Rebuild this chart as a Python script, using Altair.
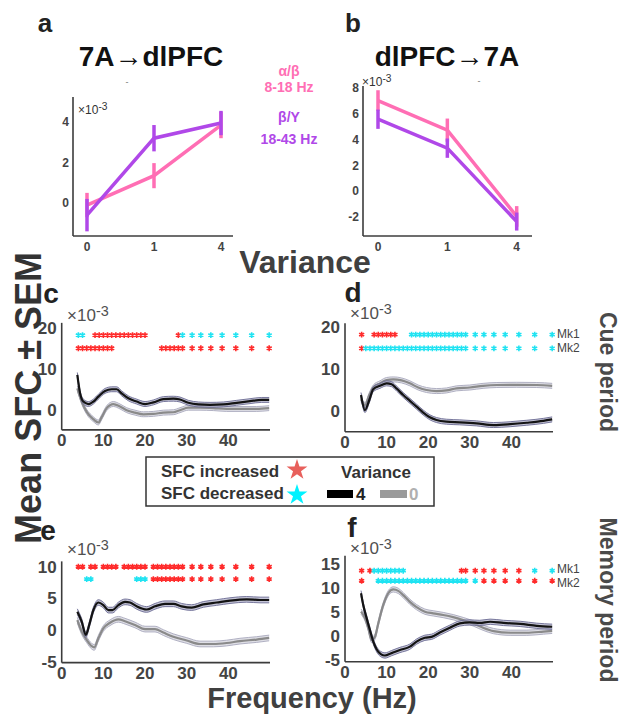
import altair as alt
import pandas as pd

# ---------------- data ----------------
VAR_LEVELS = ["0", "1", "4"]
VAR_POS = [0, 1, 2]

A_ALPHA_MEAN = [-0.1, 1.35, 3.85]
A_ALPHA_SEM = [0.6, 0.62, 0.65]
A_BETA_MEAN = [-0.6, 3.2, 3.95]
A_BETA_SEM = [0.8, 0.65, 0.6]

B_ALPHA_MEAN = [7.05, 4.75, -1.95]
B_ALPHA_SEM = [0.8, 0.9, 0.8]
B_BETA_MEAN = [5.6, 3.35, -2.35]
B_BETA_SEM = [0.75, 0.75, 0.7]

C_BLACK_F = [3.75, 4.4, 5.2, 6.4, 7.6, 8.8, 10.4, 12.0, 13.2, 14.4, 16.0, 18.0, 20.0, 22.0, 24.4, 26.8, 28.4, 30.4, 32.8, 35.6, 38.8, 42.0, 45.2, 48.0, 49.8]
C_BLACK_Y = [8.8, 4.4, 2.3, 1.7, 2.3, 3.5, 4.9, 5.3, 5.3, 4.3, 3.1, 2.3, 1.7, 2.1, 2.9, 3.0, 2.8, 2.0, 1.6, 1.5, 1.6, 2.0, 2.4, 2.7, 2.7]
C_GRAY_F = [3.75, 4.8, 6.0, 7.6, 8.8, 9.6, 10.8, 12.4, 14.0, 15.6, 17.6, 19.6, 22.0, 24.4, 26.8, 28.4, 30.4, 33.2, 36.4, 39.6, 42.8, 46.8, 49.8]
C_GRAY_Y = [5.5, 2.3, -0.2, -2.0, -2.8, -1.5, 0.7, 1.7, 1.1, 0.2, -0.4, -0.8, -0.7, -0.4, -0.3, 0.2, 0.8, 0.8, 0.7, 0.5, 0.5, 0.5, 0.7]

D_BLACK_F = [3.85, 4.8, 5.85, 6.8, 8.4, 10.0, 11.2, 12.4, 14.0, 15.6, 17.2, 18.8, 20.4, 22.0, 24.4, 27.6, 31.6, 35.7, 39.7, 43.7, 47.7, 49.8]
D_BLACK_Y = [4.0, 0.4, 2.8, 5.4, 6.2, 6.8, 6.6, 5.55, 4.0, 2.6, 1.2, -0.2, -1.35, -2.0, -2.4, -2.55, -2.8, -3.2, -3.0, -2.65, -2.2, -1.85]
D_GRAY_F = [3.85, 4.8, 5.85, 6.8, 8.4, 10.0, 11.6, 13.6, 15.6, 17.6, 19.6, 22.0, 24.4, 26.8, 30.0, 33.2, 36.5, 41.3, 46.1, 49.8]
D_GRAY_Y = [3.0, 1.6, 4.0, 5.8, 6.8, 7.6, 7.75, 7.5, 6.8, 5.8, 5.2, 4.95, 5.1, 5.6, 5.8, 6.2, 6.4, 6.45, 6.4, 6.2]

E_BLACK_F = [3.75, 4.8, 5.8, 6.6, 7.6, 8.8, 10.0, 11.2, 12.2, 13.6, 15.2, 16.4, 18.0, 20.4, 22.4, 24.8, 26.8, 28.8, 31.2, 34.0, 37.2, 40.4, 44.4, 47.6, 49.8]
E_BLACK_Y = [3.05, 1.5, -0.6, 0.95, 3.3, 4.5, 4.1, 3.3, 3.3, 4.1, 4.6, 4.5, 3.9, 3.4, 3.9, 4.3, 4.3, 3.9, 3.7, 4.2, 4.5, 4.8, 5.0, 4.9, 4.9]
E_GRAY_F = [3.75, 4.8, 6.0, 7.2, 7.8, 8.8, 10.0, 11.6, 13.6, 15.2, 17.6, 20.0, 22.4, 24.4, 26.8, 30.0, 33.2, 36.4, 39.6, 42.8, 46.8, 49.8]
E_GRAY_Y = [1.7, -0.1, -1.4, -2.4, -2.6, -1.15, 0.4, 1.3, 1.85, 1.55, 0.95, 0.3, 0.3, -0.25, -0.9, -1.5, -2.05, -2.05, -1.9, -1.6, -1.35, -1.1]

F_BLACK_F = [3.85, 4.4, 5.2, 6.0, 6.8, 7.6, 8.6, 9.6, 11.2, 13.2, 15.6, 17.2, 19.2, 20.8, 22.8, 25.2, 27.6, 30.0, 32.4, 34.9, 38.1, 42.1, 46.1, 49.8]
F_BLACK_Y = [9.2, 6.7, 4.0, 1.5, -0.9, -2.5, -3.5, -3.8, -3.3, -2.65, -1.95, -0.9, -0.1, 0.1, 1.0, 2.0, 2.9, 3.1, 3.0, 3.25, 3.0, 2.8, 2.4, 2.2]
F_GRAY_F = [3.85, 4.8, 5.6, 6.4, 7.2, 8.0, 9.2, 10.4, 11.6, 12.8, 14.0, 15.6, 17.2, 19.2, 21.2, 23.6, 26.0, 28.4, 30.8, 33.2, 35.7, 39.7, 43.7, 47.7, 49.8]
F_GRAY_Y = [5.35, 4.0, 1.9, -0.55, 0.1, 2.9, 6.75, 9.2, 10.0, 9.7, 8.8, 7.4, 6.3, 5.35, 5.0, 4.65, 4.2, 3.6, 2.9, 2.0, 1.3, 0.95, 0.95, 1.2, 1.35]

SEM_BLACK = {"c": 0.6, "d": 0.6, "e": 0.45, "f": 0.55}
SEM_GRAY = {"c": 0.6, "d": 0.6, "e": 0.45, "f": 0.55}

# significance stars: one character per frequency bin (r = increased, c = decreased, . = none)
FREQ_BINS = [4, 5, 6, 7, 8, 9, 10, 11, 12, 13, 14, 15, 16, 17, 18, 19, 20, 21, 22, 23, 24,
             25, 26, 27, 28, 29, 31.3, 33.4, 35.8, 38.5, 41.8, 45.6, 49.8]
C_MK1 = "cc.." "rrrrrrrrrrrrr" "......." "rc" "ccccccc"
C_MK2 = "rrrrrrrrr" "..........." "rrrrrr" "rrrrrrr"
D_MK1 = "r..rrrrrr..." "cccccccccccccc" "ccccccc"
D_MK2 = "r" "cccccccccc" "cccccccccc" "cccccccccc" "cc"
E_MK1 = "rr.rr.rrrr.rrrrrr." "rrrrrrrr" "rrrrrrr"
E_MK2 = "..cc..........ccc." "rrrrrrrr" "rrrrrrr"
F_MK1 = "r.r" "cccccccc" "............." "rr" "rrrrrcc"
F_MK2 = "r..." "cccccccccc" "cccccccccc" "ccc" "rrrrrr"
STAR_ROWS_Y = {"c": [18.5, 15.3], "d": [18.5, 15.2], "e": [10.15, 8.2], "f": [13.9, 11.8]}

FREQ_TICKS = [0, 10, 20, 30, 40]

# ---------------- style ----------------
W, H, M = 612, 707, 8
FONT = "Liberation Sans"
PINK = "#FF6EB4"
PURPLE = "#B048E8"
RED = "#FF2B2B"
CYAN = "#1FE3F2"
AST = "M0,-1L0,1M-0.87,-0.5L0.87,0.5M-0.87,0.5L0.87,-0.5"
STAR5 = ("M0,-1L0.2245,-0.309L0.951,-0.309L0.363,0.118L0.588,0.809L0,0.382"
         "L-0.588,0.809L-0.363,0.118L-0.951,-0.309L-0.2245,-0.309Z")
AX_COL = "#3c3c3c"
LAB_COL = "#444444"


def P(v):
    return v - M


def scale(dom, r0, r1):
    return alt.Scale(domain=dom, range=[P(r0), P(r1)], zero=False, nice=False)


def manual_axes(xs, ys, xdom, ydom, xticks, xlabels, yticks, ylabels, size, xpad, ypad):
    frame = pd.DataFrame({"x0": [xdom[0]], "x1": [xdom[1]], "y0": [ydom[0]], "y1": [ydom[1]]})
    xline = alt.Chart(frame).mark_rule(color=AX_COL, strokeWidth=1.6).encode(
        x=alt.X("x0:Q", scale=xs, axis=None), x2="x1:Q",
        y=alt.Y("y0:Q", scale=ys, axis=None))
    yline = alt.Chart(frame).mark_rule(color=AX_COL, strokeWidth=1.6).encode(
        x=alt.X("x0:Q", scale=xs, axis=None),
        y=alt.Y("y0:Q", scale=ys, axis=None), y2="y1:Q")
    xt = pd.DataFrame({"v": xticks, "lab": xlabels, "y0": [ydom[0]] * len(xticks)})
    xlab = alt.Chart(xt).mark_text(
        baseline="top", dy=xpad, fontSize=size, fontWeight="bold", color=LAB_COL, font=FONT
    ).encode(x=alt.X("v:Q", scale=xs, axis=None), y=alt.Y("y0:Q", scale=ys, axis=None), text="lab:N")
    yt = pd.DataFrame({"v": yticks, "lab": ylabels, "x0": [xdom[0]] * len(yticks)})
    ylab = alt.Chart(yt).mark_text(
        align="right", baseline="middle", dx=-ypad, fontSize=size, fontWeight="bold",
        color=LAB_COL, font=FONT
    ).encode(x=alt.X("x0:Q", scale=xs, axis=None), y=alt.Y("v:Q", scale=ys, axis=None), text="lab:N")
    return [xline, yline, xlab, ylab]


# ---------------- panels a / b ----------------
def var_series(means, sems, col, xs, ys):
    df = pd.DataFrame({"x": VAR_POS, "m": means, "s": sems})
    base = alt.Chart(df).transform_calculate(lo="datum.m - datum.s", hi="datum.m + datum.s")
    line = base.mark_line(color=col, strokeWidth=3.5).encode(
        x=alt.X("x:Q", scale=xs, axis=None), y=alt.Y("m:Q", scale=ys, axis=None))
    err = base.mark_rule(color=col, strokeWidth=3.5).encode(
        x=alt.X("x:Q", scale=xs, axis=None), y=alt.Y("lo:Q", scale=ys, axis=None), y2="hi:Q")
    return [line, err]


def var_panel(alpha_m, alpha_s, beta_m, beta_s, x0, x1, xpos0, xpos2, y_top, ydom_lo, zero_px, ppu, yticks):
    ppx = (xpos2 - xpos0) / 2.0
    xdom = [(x0 - xpos0) / ppx, (x1 - xpos0) / ppx]
    bottom_px = zero_px - ppu * ydom_lo
    ydom = [ydom_lo, (zero_px - y_top) / ppu]
    xs = scale(xdom, x0, x1)
    ys = scale(ydom, bottom_px, y_top)
    layers = manual_axes(xs, ys, xdom, ydom, VAR_POS, VAR_LEVELS, yticks,
                         [str(v) for v in yticks], 12, 6, 4)
    layers += var_series(alpha_m, alpha_s, PINK, xs, ys)
    layers += var_series(beta_m, beta_s, PURPLE, xs, ys)
    return alt.layer(*layers)


panel_a = var_panel(A_ALPHA_MEAN, A_ALPHA_SEM, A_BETA_MEAN, A_BETA_SEM,
                    73, 233, 87, 221, 97, -1.63, 203, 20.25, [0, 2, 4])
panel_b = var_panel(B_ALPHA_MEAN, B_ALPHA_SEM, B_BETA_MEAN, B_BETA_SEM,
                    363, 532, 378, 516.7, 86, -3.47, 191.3, 12.875, [-2, 0, 2, 4, 6, 8])


# ---------------- panels c-f ----------------
def curve(fx, fy, sem, xs, ys, line_col, band_col, edge_col):
    df = pd.DataFrame({"f": fx, "m": fy})
    base = alt.Chart(df).transform_calculate(lo=f"datum.m - {sem}", hi=f"datum.m + {sem}")
    xe = alt.X("f:Q", scale=xs, axis=None)
    band = base.mark_area(color=band_col, opacity=0.6, interpolate="monotone").encode(
        x=xe, y=alt.Y("lo:Q", scale=ys, axis=None), y2="hi:Q")
    lo = base.mark_line(color=edge_col, strokeWidth=0.9, interpolate="monotone").encode(
        x=xe, y=alt.Y("lo:Q", scale=ys, axis=None))
    hi = base.mark_line(color=edge_col, strokeWidth=0.9, interpolate="monotone").encode(
        x=xe, y=alt.Y("hi:Q", scale=ys, axis=None))
    mid = base.mark_line(color=line_col, strokeWidth=2.2, interpolate="monotone").encode(
        x=xe, y=alt.Y("m:Q", scale=ys, axis=None))
    return [band, lo, hi, mid]


def stars(rows, row_y, xs, ys):
    recs = []
    for row, yv in zip(rows, row_y):
        for fb, ch in zip(FREQ_BINS, row):
            if ch == "r":
                recs.append({"f": fb, "y": yv, "c": RED})
            elif ch == "c":
                recs.append({"f": fb, "y": yv, "c": CYAN})
    return alt.Chart(pd.DataFrame(recs)).mark_point(
        shape=AST, filled=False, size=34, strokeWidth=1.6, opacity=1
    ).encode(
        x=alt.X("f:Q", scale=xs, axis=None),
        y=alt.Y("y:Q", scale=ys, axis=None),
        color=alt.Color("c:N", scale=None),
    )


def freq_panel(key, bf, by, gf, gy, rows, x0, x1, ydom, zero_px, ppu, yticks):
    xdom = [0, 50]
    xs = scale(xdom, x0, x1)
    ys = scale(ydom, zero_px - ppu * ydom[0], zero_px - ppu * ydom[1])
    layers = manual_axes(xs, ys, xdom, ydom, FREQ_TICKS, [str(v) for v in FREQ_TICKS],
                         yticks, [str(v) for v in yticks], 17, 3, 5)
    layers += curve(gf, gy, SEM_GRAY[key], xs, ys, "#8a8a8a", "#c9c9d6", "#a9a9bd")
    layers += curve(bf, by, SEM_BLACK[key], xs, ys, "#141414", "#9d9dbb", "#6c6c94")
    layers.append(stars(rows, STAR_ROWS_Y[key], xs, ys))
    return alt.layer(*layers)


panel_c = freq_panel("c", C_BLACK_F, C_BLACK_Y, C_GRAY_F, C_GRAY_Y, [C_MK1, C_MK2],
                     61.7, 270, [-4.6, 21.5], 411, 4.1, [0, 10, 20])
panel_d = freq_panel("d", D_BLACK_F, D_BLACK_Y, D_GRAY_F, D_GRAY_Y, [D_MK1, D_MK2],
                     345, 553, [-4.8, 21.2], 411.7, 4.17, [0, 10, 20])
panel_e = freq_panel("e", E_BLACK_F, E_BLACK_Y, E_GRAY_F, E_GRAY_Y, [E_MK1, E_MK2],
                     61.7, 270, [-5, 11], 631, 6.33, [-5, 0, 5, 10])
panel_f = freq_panel("f", F_BLACK_F, F_BLACK_Y, F_GRAY_F, F_GRAY_Y, [F_MK1, F_MK2],
                     345, 553, [-5.1, 17], 637.3, 4.79, [-5, 0, 5, 10, 15])

# ---------------- texts ----------------
TEXTS = []


def T(s, x, y, size, color="#333333", weight="bold", align="center", baseline="middle", angle=0):
    TEXTS.append(dict(s=s, px=P(x), py=P(y), size=size, color=color, weight=weight,
                      align=align, baseline=baseline, angle=angle))


def exp_label(x, y, size, color="#505050"):
    T("×10", x, y, size, color=color, weight="normal", align="left")
    T("-3", x + size * 1.7, y - size * 0.25, round(size * 0.85, 1), color=color, weight="normal", align="left")


T("a", 45, 32, 26, color="#222222", baseline="alphabetic")
T("b", 353, 32, 26, color="#222222", baseline="alphabetic")
T("c", 51, 303, 28, color="#222222", baseline="alphabetic")
T("d", 353, 302, 28, color="#222222", baseline="alphabetic")
T("e", 48, 540, 28, color="#222222", baseline="alphabetic")
T("f", 352, 537, 28, color="#222222", baseline="alphabetic")
T("7A→dlPFC", 151, 66, 28, color="#111111", baseline="alphabetic")
T("dlPFC→7A", 447, 66, 28, color="#111111", baseline="alphabetic")
T("-", 127, 82, 9, color="#777777", weight="normal")
T("-", 479, 81, 9, color="#777777", weight="normal")
T("α/β", 289, 72, 14, color=PINK)
T("8-18 Hz", 289, 88, 14, color=PINK)
T("β/Υ", 289, 118, 14, color=PURPLE)
T("18-43 Hz", 289, 140, 14, color=PURPLE)
T("Variance", 305, 263, 32, color="#404040")
T("Mean SFC ± SEM", 30, 398, 36, color="#333333", angle=270)
T("Frequency (Hz)", 312, 699, 29, color="#404040")
T("Cue period", 607, 372, 23, color="#4a4a4a", angle=90)
T("Memory period", 607, 600, 23, color="#4a4a4a", angle=90)
T("Mk1", 557, 334, 12, color="#444444", weight="normal", align="left")
T("Mk2", 557, 348, 12, color="#444444", weight="normal", align="left")
T("Mk1", 557, 569, 12, color="#444444", weight="normal", align="left")
T("Mk2", 557, 583, 12, color="#444444", weight="normal", align="left")
exp_label(78, 110, 12, color="#333333")
exp_label(362, 82, 12, color="#333333")
exp_label(67, 316, 17)
exp_label(350, 314, 17)
exp_label(67, 550, 17)
exp_label(350, 549, 17)
# legend texts
T("SFC increased", 161, 472, 17, color="#333333", align="left")
T("SFC decreased", 161, 494, 17, color="#333333", align="left")
T("Variance", 376, 473, 17, color="#333333")
T("4", 356, 495, 17, color="#222222", align="left")
T("0", 409, 495, 17, color="#b0b0b0", align="left")

tdf = pd.DataFrame(TEXTS)
text_layers = []
for (w, a, b, ang), g in tdf.groupby(["weight", "align", "baseline", "angle"]):
    text_layers.append(
        alt.Chart(g.reset_index(drop=True)).mark_text(
            font=FONT, fontWeight=str(w), align=str(a), baseline=str(b), angle=int(ang)
        ).encode(
            x=alt.X("px:Q", scale=None, axis=None),
            y=alt.Y("py:Q", scale=None, axis=None),
            text="s:N",
            size=alt.Size("size:Q", scale=None, legend=None),
            color=alt.Color("color:N", scale=None, legend=None),
        )
    )

# ---------------- legend box marks ----------------
box = pd.DataFrame({"x": [P(146)], "x2": [P(434)], "y": [P(457)], "y2": [P(506)]})
box_layer = alt.Chart(box).mark_rect(fill="white", stroke="#333333", strokeWidth=1.5).encode(
    x=alt.X("x:Q", scale=None, axis=None), x2="x2:Q",
    y=alt.Y("y:Q", scale=None, axis=None), y2="y2:Q")
sw = pd.DataFrame({"x": [P(327), P(380)], "x2": [P(353), P(407)], "y": [P(490), P(490)],
                   "y2": [P(498), P(498)], "c": ["#000000", "#9a9a9a"]})
sw_layer = alt.Chart(sw).mark_rect().encode(
    x=alt.X("x:Q", scale=None, axis=None), x2="x2:Q",
    y=alt.Y("y:Q", scale=None, axis=None), y2="y2:Q",
    color=alt.Color("c:N", scale=None, legend=None))
st = pd.DataFrame({"x": [P(297), P(297)], "y": [P(470), P(495)], "c": ["#E8605C", "#00F2FF"]})
st_layer = alt.Chart(st).mark_point(shape=STAR5, filled=True, size=480, opacity=1, strokeWidth=0).encode(
    x=alt.X("x:Q", scale=None, axis=None), y=alt.Y("y:Q", scale=None, axis=None),
    color=alt.Color("c:N", scale=None, legend=None))

chart = alt.layer(
    panel_a, panel_b, panel_c, panel_d, panel_e, panel_f,
    box_layer, sw_layer, *text_layers, st_layer
).resolve_scale(
    x="independent", y="independent"
).properties(
    width=W, height=H, padding=0, autosize=alt.AutoSizeParams(type="none")
).configure_view(stroke=None)

chart.save("out.html", embed_options={"renderer": "svg", "actions": False})
